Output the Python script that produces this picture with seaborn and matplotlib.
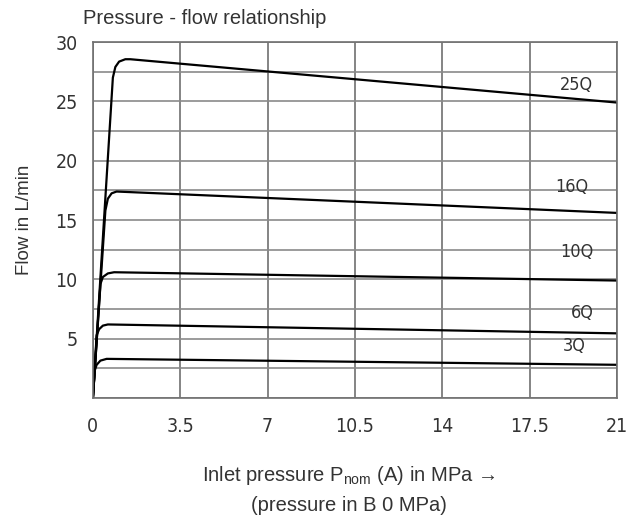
import matplotlib
matplotlib.use('Agg')
import matplotlib.pyplot as plt
import pandas as pd
import seaborn as sns
from matplotlib.ticker import MultipleLocator

# estimated curve points (inlet pressure MPa, flow L/min)
x_25q = [0, 0.8, 0.9, 1.05, 1.3, 1.5, 21]
y_25q = [0, 27.0, 27.9, 28.35, 28.55, 28.55, 24.9]
x_16q = [0, 0.5, 0.6, 0.75, 0.95, 21]
y_16q = [0, 15.8, 16.8, 17.25, 17.4, 15.6]
x_10q = [0, 0.3, 0.4, 0.6, 0.85, 21]
y_10q = [0, 9.6, 10.2, 10.5, 10.6, 9.9]
x_6q = [0, 0.15, 0.25, 0.4, 0.6, 21]
y_6q = [0, 5.3, 5.8, 6.1, 6.2, 5.45]
x_3q = [0, 0.07, 0.15, 0.3, 0.55, 21]
y_3q = [0, 2.3, 2.8, 3.15, 3.3, 2.8]

curve_names = ['25Q', '16Q', '10Q', '6Q', '3Q']
label_x = [19.4, 19.2, 19.4, 19.6, 19.3]
label_y = [26.4, 17.8, 12.3, 7.2, 4.4]

x_ticks = [0, 3.5, 7, 10.5, 14, 17.5, 21]
x_ticklabels = ['0', '3.5', '7', '10.5', '14', '17.5', '21']
y_ticks = [5, 10, 15, 20, 25, 30]

curves = {
    '25Q': (x_25q, y_25q),
    '16Q': (x_16q, y_16q),
    '10Q': (x_10q, y_10q),
    '6Q': (x_6q, y_6q),
    '3Q': (x_3q, y_3q),
}
frames = []
for name, (xs, ys) in curves.items():
    frames.append(pd.DataFrame({'pressure': xs, 'flow': ys, 'curve': name}))
df = pd.concat(frames, ignore_index=True)

sns.set_style('white')
plt.rcParams['font.family'] = ['Liberation Sans', 'DejaVu Sans']
plt.rcParams['mathtext.default'] = 'regular'
narrow = dict(family='DejaVu Sans', stretch='condensed', color='#333333')

fig = plt.figure(figsize=(6.32, 5.22), dpi=100)
ax = fig.add_axes([0.147, 0.2375, 0.829, 0.682])

sns.lineplot(data=df, x='pressure', y='flow', hue='curve', units='curve',
             estimator=None, palette=['black'] * 5, linewidth=1.6,
             legend=False, ax=ax)

for name, lx, ly in zip(curve_names, label_x, label_y):
    ax.text(lx, ly, name, fontsize=13, ha='center', va='center', **narrow)

ax.set_xlim(0, 21)
ax.set_ylim(0, 30)
ax.set_xticks(x_ticks)
ax.set_xticklabels(x_ticklabels, fontsize=14, **narrow)
ax.set_yticks(y_ticks)
ax.set_yticklabels([str(v) for v in y_ticks], fontsize=14, **narrow)
ax.yaxis.set_minor_locator(MultipleLocator(2.5))
ax.tick_params(which='both', length=0)
ax.tick_params(axis='x', pad=14)
ax.tick_params(axis='y', pad=11)
ax.grid(True, which='major', axis='x', color='#707070', linewidth=1.2)
ax.grid(True, which='both', axis='y', color='#8a8a8a', linewidth=1.2)
ax.set_axisbelow(True)
for spine in ax.spines.values():
    spine.set_color('#707070')
    spine.set_linewidth(1.2)

ax.set_xlabel('')
ax.set_ylabel('Flow in L/min', fontsize=13.5, color='#333333', labelpad=16)

fig.text(0.131, 0.965, 'Pressure - flow relationship', fontsize=14.5,
         color='#333333', ha='left', va='center')
fig.text(0.551, 0.09, 'Inlet pressure P$_{nom}$ (A) in MPa \u2192', fontsize=14.5,
         color='#333333', ha='center', va='center')
fig.text(0.552, 0.032, '(pressure in B 0 MPa)', fontsize=14.5,
         color='#333333', ha='center', va='center')

fig.savefig('out.png', dpi=100, facecolor='white')
